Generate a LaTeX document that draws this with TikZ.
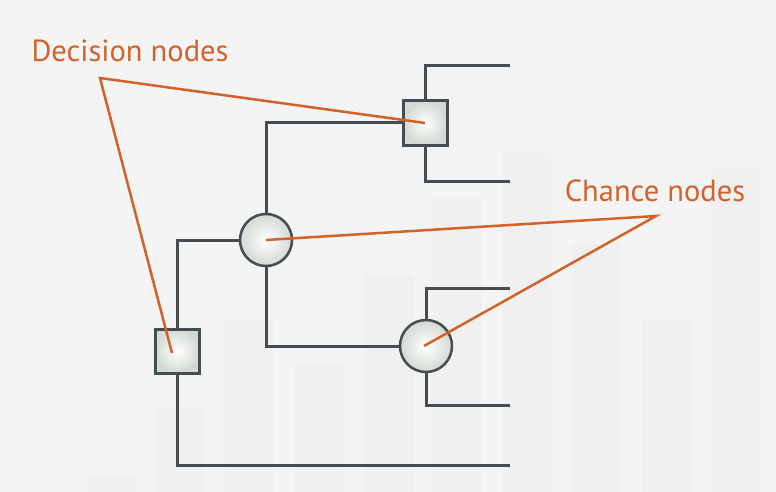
\documentclass[tikz,border=0pt]{standalone}
\usepackage{fontspec}
\setmainfont{PT Sans}
\usetikzlibrary{calc}

\definecolor{bgcol}{HTML}{F4F4F4}
\definecolor{barcol}{HTML}{F0F0F0}
\definecolor{linecol}{HTML}{454C52}
\definecolor{markcol}{HTML}{D2622A}
\definecolor{nodefill}{HTML}{D3D9D3}

\tikzset{
  branch/.style={draw=linecol, line width=3pt},
  decnode/.style={draw=linecol, line width=3pt, rectangle, minimum size=44pt,
    inner sep=0pt, shading=radial, inner color=white, outer color=nodefill},
  chnode/.style={draw=linecol, line width=2.5pt, circle, minimum size=52pt,
    inner sep=0pt, shading=radial, inner color=white, outer color=nodefill},
  pointer/.style={draw=markcol, line width=2.5pt},
  tag/.style={text=markcol, font=\fontsize{30.5}{34}\selectfont, inner sep=0pt}
}

\begin{document}
\begin{tikzpicture}[x=1pt,y=-1pt]
            \useasboundingbox (0,0) rectangle (776,492);
            \fill[bgcol] (0,0) rectangle (776,492);

            % faint bars behind the tree
            \foreach \x/\h in {87/474,155/408,225/319,294/364,365/274,433/198,502/153,572/244,642/319,711/169}{
              \fill[barcol] (\x,\h) rectangle (\x+49,492);
            }

            \node[decnode] (d1) at (177,351) {};
            \node[chnode] (c1) at (266,240) {};
            \node[decnode] (d2) at (425,123) {};
            \node[chnode] (c2) at (426,346) {};

            \coordinate (e1) at (510,66);
            \coordinate (e2) at (510,181);
            \coordinate (e3) at (510,288);
            \coordinate (e4) at (510,405);
            \coordinate (e5) at (510,465);

            \draw[branch] (d1.north) |- (c1.west);
            \draw[branch] (d1.south) |- (e5);
            \draw[branch] (c1.north) |- (d2.west);
            \draw[branch] (c1.south) |- (c2.west);
            \draw[branch] (d2.north) |- (e1);
            \draw[branch] (d2.south) |- (e2);
            \draw[branch] (c2.north) |- (e3);
            \draw[branch] (c2.south) |- (e4);

            \node[tag] (dectag) at (130,51) {Decision nodes};
            \node[tag] (chtag) at (655,191) {Chance nodes};
            \coordinate (decpt) at (100,78);
            \coordinate (chpt) at (656,216);

            \draw[pointer] (d2.center) -- (decpt) -- ([shift={(-5,2)}]d1.center);
            \draw[pointer] (c1.center) -- (chpt) -- ([shift={(-2,0)}]c2.center);
        \end{tikzpicture}
\end{document}
